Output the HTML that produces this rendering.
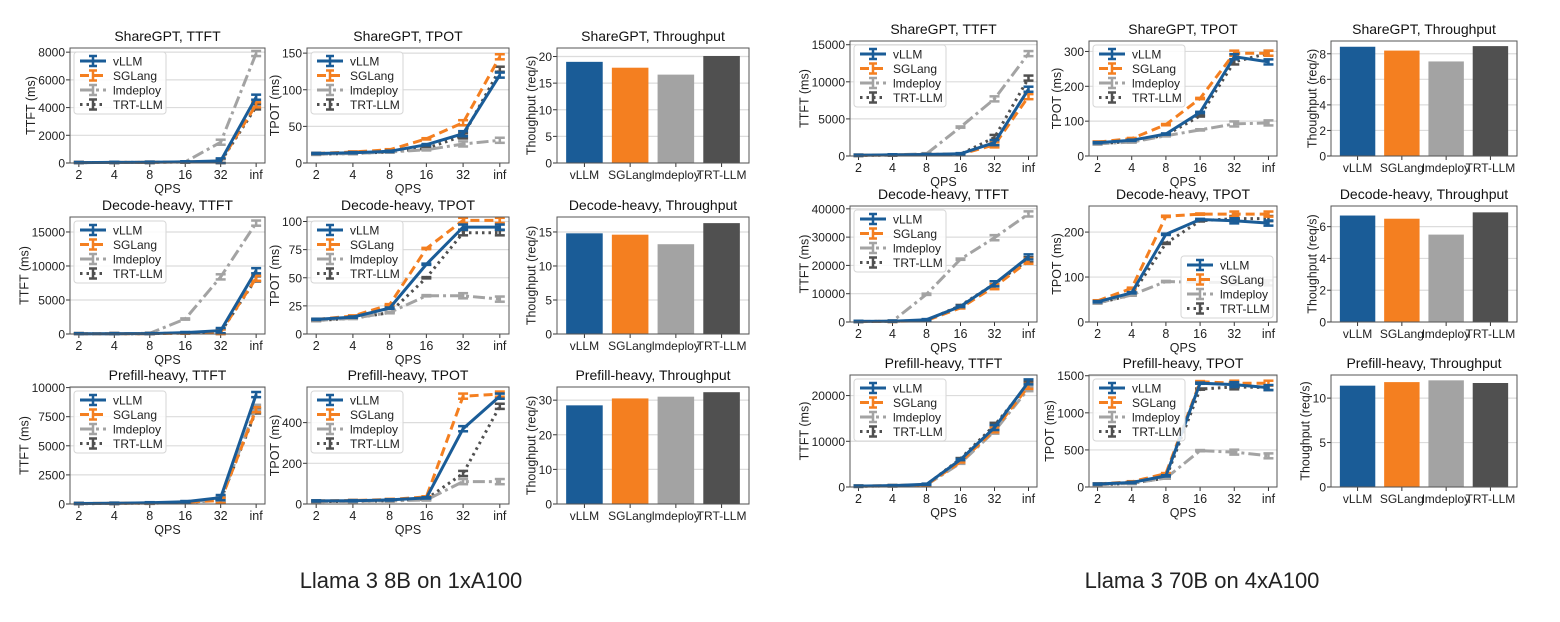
<!DOCTYPE html>
<html><head><meta charset="utf-8"><style>
body{margin:0;background:#fff;}
svg{display:block;font-family:"Liberation Sans","DejaVu Sans",sans-serif;}
</style></head><body>
<svg id="fig" width="1560" height="622" viewBox="0 0 1560 622" xmlns="http://www.w3.org/2000/svg">
<rect width="1560" height="622" fill="#fff"/>
<text x="411" y="588" font-size="22" text-anchor="middle" fill="#222">Llama 3 8B on 1xA100</text>
<text x="1202" y="588" font-size="22" text-anchor="middle" fill="#222">Llama 3 70B on 4xA100</text>
</svg>
<script>
const categories = ["2","4","8","16","32","inf"];
const systems = ["vLLM","SGLang","lmdeploy","TRT-LLM"];
const colors = ["#1a5c97","#f47f20","#a3a3a3","#505050"];
const dashes = ["", "9,5", "12,4,3,4", "2.5,4"];

// ---- Llama 3 8B ----
const sgTtft8 = [[30,40,50,80,150,4750],[30,40,50,80,120,4200],[30,40,50,80,1500,7900],[30,40,50,70,100,4050]];
const sgTpot8 = [[13,14,16,25,40,120],[13,15,18,33,55,145],[12,13,15,18,26,31],[12,13,15,20,37,128]];
const sgThr8 = [19.0,17.9,16.6,20.1];
const dhTtft8 = [[30,40,60,200,500,9300],[30,40,50,150,300,8200],[30,40,100,2200,8400,16300],[30,40,50,150,300,8100]];
const dhTpot8 = [[13,15,23,62,95,95],[13,16,26,76,101,101],[12,14,19,34,34,31],[12,14,19,50,90,90]];
const dhThr8 = [14.8,14.6,13.2,16.3];
const phTtft8 = [[40,60,100,200,550,9400],[40,60,90,150,300,8100],[40,50,80,150,400,8300],[30,50,70,120,350,8000]];
const phTpot8 = [[15,16,20,30,370,530],[15,17,22,35,530,540],[12,13,15,20,110,110],[12,13,15,25,150,480]];
const phThr8 = [28.5,30.5,31.0,32.3];
// ---- Llama 3 70B ----
const sgTtft70 = [[100,150,200,300,1800,9000],[100,150,200,250,1500,8000],[100,150,300,3900,7700,13800],[80,120,200,250,2500,10500]];
const sgTpot70 = [[38,45,63,125,285,270],[40,50,90,165,295,295],[35,40,58,75,92,95],[35,42,60,115,270,295]];
const sgThr70 = [8.55,8.25,7.4,8.6];
const dhTtft70 = [[200,300,800,5500,13500,23000],[150,250,500,5000,12500,21500],[200,300,9800,22200,29800,38200],[150,250,600,5800,13500,22000]];
const dhTpot70 = [[45,65,195,228,225,220],[47,75,235,240,240,240],[42,60,90,88,88,87],[42,60,175,225,230,230]];
const dhThr70 = [6.7,6.5,5.5,6.9];
const phTtft70 = [[200,300,600,6000,13000,23000],[200,300,500,5500,12500,22000],[150,250,450,5200,12200,21500],[150,250,500,6200,13500,22500]];
const phTpot70 = [[40,60,150,1400,1380,1340],[40,70,180,1420,1400,1400],[30,50,120,490,470,420],[30,50,120,1320,1350,1340]];
const phThr70 = [11.4,11.8,12.0,11.7];

const errFrac = 0.022;
const svg = document.getElementById('fig');
const NS = "http://www.w3.org/2000/svg";
function mk(tag, attrs, parent){const e=document.createElementNS(NS,tag);for(const k in attrs)e.setAttribute(k,attrs[k]);(parent||svg).appendChild(e);return e;}

function panel(box, title, ylabel, ymax, ticks, kind, data, legendPos, name){
  const [x0,x1,y0,y1]=box;
  const g=mk('g',{});
  
  
  const ys=v=>y1-(v/ymax)*(y1-y0);
  let maxLen=0;
  ticks.forEach(t=>{
    const y=ys(t);
    maxLen=Math.max(maxLen,String(t).length);
    mk('line',{x1:x0,x2:x1,y1:y,y2:y,stroke:'#dcdcdc','stroke-width':1.2},g);
    mk('line',{x1:x0-4,x2:x0,y1:y,y2:y,stroke:'#333','stroke-width':1},g);
    const tt=mk('text',{x:x0-5,y:y+4.5,'font-size':12,'text-anchor':'end',fill:'#222'},g);
    tt.textContent=t;
  });
  const tl=mk('text',{x:(x0+x1)/2,y:y0-7,'font-size':14,'text-anchor':'middle',fill:'#111'},g);
  tl.textContent=title;
  
  
  const off=5+maxLen*6.7+3;
  const yl=mk('text',{x:0,y:0,'font-size':12.5,'text-anchor':'middle',fill:'#222',transform:`translate(${x0-off},${(y0+y1)/2}) rotate(-90)`},g);
  yl.textContent=ylabel;
  
  
  if(kind==='bar'){
    const n=data.length, lo=-0.6, hi=n-0.4;
    const xs=i=>x0+(i-lo)/(hi-lo)*(x1-x0);
    const bw=0.8*(x1-x0)/(hi-lo);
    data.forEach((v,i)=>{
      const r=mk('rect',{x:xs(i)-bw/2,y:ys(v),width:bw,height:y1-ys(v),fill:colors[i]},g);
      
      
      mk('line',{x1:xs(i),x2:xs(i),y1:y1,y2:y1+4,stroke:'#333'},g);
      const t=mk('text',{x:xs(i),y:y1+16,'font-size':12,'text-anchor':'middle',fill:'#222'},g);
      t.textContent=systems[i];
    });
  } else {
    const n=categories.length, lo=-0.25, hi=n-0.75;
    const xs=i=>x0+(i-lo)/(hi-lo)*(x1-x0);
    categories.forEach((c,i)=>{
      mk('line',{x1:xs(i),x2:xs(i),y1:y1,y2:y1+4,stroke:'#333'},g);
      const t=mk('text',{x:xs(i),y:y1+16,'font-size':12.5,'text-anchor':'middle',fill:'#222'},g);
      t.textContent=c;
    });
    const xl=mk('text',{x:(x0+x1)/2,y:y1+30,'font-size':12.5,'text-anchor':'middle',fill:'#222'},g);
    xl.textContent='QPS';
    [3,2,1,0].forEach(s=>{
      const ser=data[s];
      const pts=ser.map((v,i)=>xs(i).toFixed(1)+','+ys(v).toFixed(1)).join(' ');
      const pl=mk('polyline',{points:pts,fill:'none',stroke:colors[s],'stroke-width':3,'stroke-dasharray':dashes[s]},g);
      
      
      ser.forEach((v,i)=>{
        const e=ymax*errFrac*(i>=4?1:0.25);
        const x=xs(i), ya=ys(Math.max(0,v-e)), yb=ys(v+e);
        mk('line',{x1:x,x2:x,y1:ya,y2:yb,stroke:colors[s],'stroke-width':2.5},g);
        mk('line',{x1:x-5,x2:x+5,y1:ya,y2:ya,stroke:colors[s],'stroke-width':2.5},g);
        mk('line',{x1:x-5,x2:x+5,y1:yb,y2:yb,stroke:colors[s],'stroke-width':2.5},g);
      });
    });
    const lw=92, lh=62;
    const lx = legendPos==='lr' ? x1-lw-4 : x0+4;
    const ly = legendPos==='lr' ? y1-lh-4 : y0+4;
    const lg=mk('g',{},g);
    
    
    mk('rect',{x:lx,y:ly,width:lw,height:lh,rx:3,fill:'#fff','fill-opacity':0.85,stroke:'#d6d6d6'},lg);
    systems.forEach((s,k)=>{
      const yy=ly+9+k*14.5;
      mk('line',{x1:lx+6,x2:lx+32,y1:yy,y2:yy,stroke:colors[k],'stroke-width':3,'stroke-dasharray':dashes[k]},lg);
      mk('line',{x1:lx+19,x2:lx+19,y1:yy-5,y2:yy+5,stroke:colors[k],'stroke-width':2.5},lg);
      mk('line',{x1:lx+15,x2:lx+23,y1:yy-5,y2:yy-5,stroke:colors[k],'stroke-width':2.5},lg);
      mk('line',{x1:lx+15,x2:lx+23,y1:yy+5,y2:yy+5,stroke:colors[k],'stroke-width':2.5},lg);
      const t=mk('text',{x:lx+39,y:yy+4.5,'font-size':12,fill:'#222'},lg);
      t.textContent=s;
      
      
    });
  }
  mk('rect',{x:x0,y:y0,width:x1-x0,height:y1-y0,fill:'none',stroke:'#555','stroke-width':1},g);
}

const L=[[70,265],[307,509],[557,749]], LR=[[48,163],[217,334],[387,504]];
const R=[[850,1037],[1089,1277],[1331,1517]], RR=[[41,156],[206,322],[375,487]];
const bx=(c,r)=>[c[0],c[1],r[0],r[1]];
const thr='Thoughput (req/s)';
panel(bx(L[0],LR[0]),'ShareGPT, TTFT','TTFT (ms)',8300,[0,2000,4000,6000,8000],'line',sgTtft8,'ul','sharegpt-ttft-8b');
panel(bx(L[1],LR[0]),'ShareGPT, TPOT','TPOT (ms)',157,[0,50,100,150],'line',sgTpot8,'ul','sharegpt-tpot-8b');
panel(bx(L[2],LR[0]),'ShareGPT, Throughput',thr,21.6,[0,5,10,15,20],'bar',sgThr8,'','sharegpt-throughput-8b');
panel(bx(L[0],LR[1]),'Decode-heavy, TTFT','TTFT (ms)',17200,[0,5000,10000,15000],'line',dhTtft8,'ul','decode-ttft-8b');
panel(bx(L[1],LR[1]),'Decode-heavy, TPOT','TPOT (ms)',104,[0,25,50,75,100],'line',dhTpot8,'ul','decode-tpot-8b');
panel(bx(L[2],LR[1]),'Decode-heavy, Throughput',thr,17.2,[0,5,10,15],'bar',dhThr8,'','decode-throughput-8b');
panel(bx(L[0],LR[2]),'Prefill-heavy, TTFT','TTFT (ms)',10050,[0,2500,5000,7500,10000],'line',phTtft8,'ul','prefill-ttft-8b');
panel(bx(L[1],LR[2]),'Prefill-heavy, TPOT','TPOT (ms)',575,[0,200,400],'line',phTpot8,'ul','prefill-tpot-8b');
panel(bx(L[2],LR[2]),'Prefill-heavy, Throughput',thr,33.8,[0,10,20,30],'bar',phThr8,'','prefill-throughput-8b');
panel(bx(R[0],RR[0]),'ShareGPT, TTFT','TTFT (ms)',15500,[0,5000,10000,15000],'line',sgTtft70,'ul','sharegpt-ttft-70b');
panel(bx(R[1],RR[0]),'ShareGPT, TPOT','TPOT (ms)',330,[0,100,200,300],'line',sgTpot70,'ul','sharegpt-tpot-70b');
panel(bx(R[2],RR[0]),'ShareGPT, Throughput',thr,9.0,[0,2,4,6,8],'bar',sgThr70,'','sharegpt-throughput-70b');
panel(bx(R[0],RR[1]),'Decode-heavy, TTFT','TTFT (ms)',41000,[0,10000,20000,30000,40000],'line',dhTtft70,'ul','decode-ttft-70b');
panel(bx(R[1],RR[1]),'Decode-heavy, TPOT','TPOT (ms)',258,[0,100,200],'line',dhTpot70,'lr','decode-tpot-70b');
panel(bx(R[2],RR[1]),'Decode-heavy, Throughput',thr,7.3,[0,2,4,6],'bar',dhThr70,'','decode-throughput-70b');
panel(bx(R[0],RR[2]),'Prefill-heavy, TTFT','TTFT (ms)',24500,[0,10000,20000],'line',phTtft70,'ul','prefill-ttft-70b');
panel(bx(R[1],RR[2]),'Prefill-heavy, TPOT','TPOT (ms)',1510,[0,500,1000,1500],'line',phTpot70,'ul','prefill-tpot-70b');
panel(bx(R[2],RR[2]),'Prefill-heavy, Throughput',thr,12.6,[0,5,10],'bar',phThr70,'','prefill-throughput-70b');
</script>
</body></html>
